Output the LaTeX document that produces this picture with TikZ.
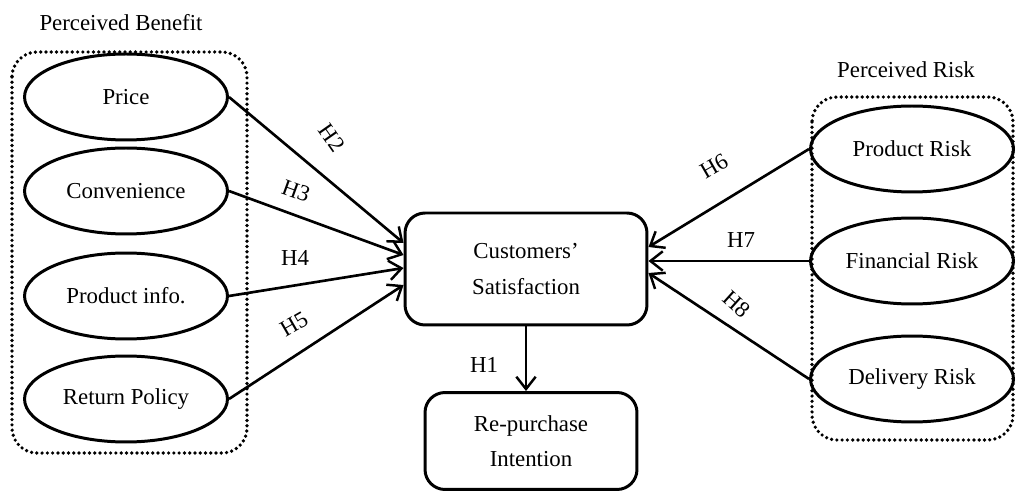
\documentclass[tikz,border=0pt]{standalone}
\usepackage{fontspec}
\setmainfont{Liberation Serif}
\usetikzlibrary{arrows.meta,shapes.geometric,calc}
\tikzset{factor/.style={draw, ellipse, line width=1.7pt, minimum width=4.06cm, minimum height=1.72cm, inner sep=0pt},
	construct/.style={draw, rounded corners=0.4cm, line width=1.7pt, align=center, inner sep=0pt},
	hyp/.style={-{Straight Barb[length=7pt,width=11pt,line width=1.4pt]}, line width=1.5pt},
	groupbox/.style={line width=2.1pt, dash pattern=on 0pt off 3pt, line cap=round, rounded corners=0.5cm}}

\begin{document}
\begin{tikzpicture}[x=0.02cm, y=-0.02cm, font=\fontsize{13}{20}\selectfont]

	\useasboundingbox (0,0) rectangle (1016,492);

	% perceived benefit
	\node (benefit) at (121,23) {Perceived Benefit};
	\draw[groupbox] (12,52) rectangle (247,453);
	\node[factor] (price) at (126,97) {Price};
	\node[factor] (conv) at (126,191) {Convenience};
	\node[factor] (info) at (126,296) {Product info.};
	\node[factor] (retpol) at (126,399) {Return Policy};

	% perceived risk
	\node (risk) at (906,70) {Perceived Risk};
	\draw[groupbox] (812,97) rectangle (1013,440);
	\node[factor] (prodrisk) at (912,149) {Product Risk};
	\node[factor] (finrisk) at (912,261) {Financial Risk};
	\node[factor] (delrisk) at (912,379) {Delivery Risk};

	% constructs
	\node[construct, minimum width=4.84cm, minimum height=2.24cm] (sat) at (526,269) {Customers’\\Satisfaction};
	\node[construct, minimum width=4.24cm, minimum height=1.94cm] (rep) at (531,441) {Re-purchase\\Intention};

	% arrows
	\draw[hyp] (price.east) -- ($(sat.west)+(0,-26)$);
	\draw[hyp] (conv.east) -- ($(sat.west)+(0,-14)$);
	\draw[hyp] (info.east) -- ($(sat.west)+(0,-1)$);
	\draw[hyp] (retpol.east) -- ($(sat.west)+(0,16)$);
	\draw[hyp] (prodrisk.west) -- ($(sat.east)+(0,-22)$);
	\draw[hyp] (finrisk.west) -- ($(sat.east)+(0,-8)$);
	\draw[hyp] (delrisk.west) -- ($(sat.east)+(0,4)$);
	\draw[hyp] (sat.south) -- (sat.south |- rep.north);

	\node[rotate=-55] (h2) at (332,138) {H2};
	\node[rotate=-20] (h3) at (296,191) {H3};
	\node (h4) at (295,258) {H4};
	\node[rotate=30] (h5) at (294,324) {H5};
	\node[rotate=30] (h6) at (714,166) {H6};
	\node (h7) at (741,240) {H7};
	\node[rotate=-42] (h8) at (737,304) {H8};
	\node (h1) at (484,365) {H1};
\end{tikzpicture}
\end{document}
